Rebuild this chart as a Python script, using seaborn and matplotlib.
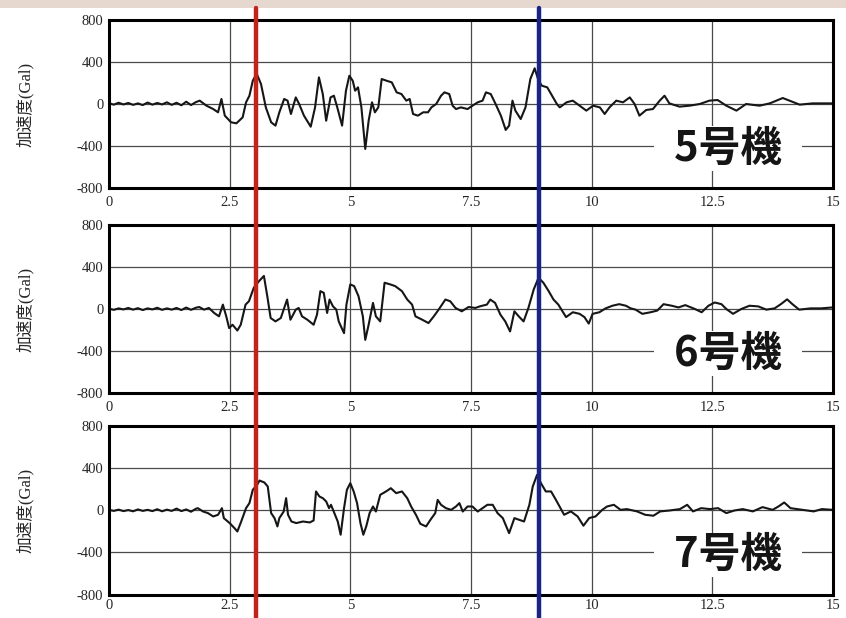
import matplotlib
matplotlib.use("Agg")
import matplotlib.pyplot as plt
from matplotlib.patches import Rectangle
import pandas as pd
import seaborn as sns

sns.set_style("white")
plt.rcParams["font.family"] = ["Liberation Serif", "Noto Sans CJK JP"]
plt.rcParams["axes.unicode_minus"] = False

units = ["5号機", "6号機", "7号機"]
y_title = "加速度(Gal)"
x_ticks = [0, 2.5, 5, 7.5, 10, 12.5, 15]
x_labels = ["0", "2.5", "5", "7.5", "10", "12.5", "15"]
y_ticks = [-800, -400, 0, 400, 800]
y_labels = ["-800", "-400", "0", "400", "800"]
red_t = 3.05
blue_t = 8.9

# quiet part before the main shock (s)
t_pre = [0.0, 0.1, 0.2, 0.3, 0.4, 0.5, 0.6, 0.7, 0.8, 0.9,
         1.0, 1.1, 1.2, 1.3, 1.4, 1.5, 1.6, 1.7, 1.8]

# 5号機
t5 = t_pre + [
    1.88, 2.02, 2.16, 2.26, 2.33, 2.40, 2.53, 2.64, 2.77, 2.84,
    2.91, 2.98, 3.06, 3.15, 3.25, 3.36, 3.45, 3.53, 3.63, 3.70,
    3.77, 3.87, 3.94, 4.04, 4.18, 4.27, 4.35, 4.43, 4.50, 4.59,
    4.66, 4.73, 4.83, 4.91, 4.98, 5.05, 5.10, 5.16, 5.23, 5.31,
    5.38, 5.45, 5.51, 5.58, 5.65, 5.75, 5.86, 5.96, 6.06, 6.16,
    6.23, 6.30, 6.40, 6.51, 6.61, 6.68, 6.78, 6.88, 6.95, 7.05,
    7.12, 7.19, 7.29, 7.43, 7.53, 7.64, 7.74, 7.81, 7.91, 8.01,
    8.12, 8.22, 8.29, 8.36, 8.42, 8.53, 8.63, 8.73, 8.82, 8.90,
    8.97, 9.08, 9.18, 9.28,
    9.34, 9.48, 9.61, 9.75, 9.89, 10.03, 10.17, 10.27, 10.37, 10.51,
    10.65, 10.79, 10.89, 10.99, 11.13, 11.27, 11.41, 11.51, 11.61, 11.82,
    12.03, 12.24, 12.44, 12.61, 12.79, 13.0, 13.2, 13.48, 13.69, 13.96,
    14.1, 14.31, 14.58, 14.86, 15.0]
a5 = [8, -6, 12, -4, 10, -8, 6, -10, 14, -6,
      10, -4, 16, -8, 12, -12, 22, -10, 18,
      32, -16, -48, -79, 48, -111, -174, -184, -127, 16,
      79, 222, 290, 190, -32, -174, -206, -79, 48, 32,
      -95, 63, 0, -111, -216, -32, 254, 95, -159, 63,
      79, -32, -206, 127, 269, 222, 127, 159, -32, -428,
      -159, 16, -79, -32, 238, 222, 206, 111, 95, 32,
      48, -95, -111, -79, -79, -32, 0, 79, 111, 95,
      -16, -48, -32, -48, -16, 16, 32, 111, 95, 0,
      -111, -247, -206, 32, -63, -143, -32, 238, 340, 222,
      174, 159, 79, 0,
      -32, 16, 32, -16, -63, -16, -32, -95, -32, 32,
      16, 63, 0, -111, -57, -48, 32, 79, 6, -25,
      -16, 0, 32, 38, -16, -63, 0, -16, 6, 57,
      32, -6, 6, 6, 6]

# 6号機
t6 = t_pre + [
    1.87, 1.97, 2.07, 2.18, 2.28, 2.36, 2.43, 2.49, 2.56, 2.66,
    2.73, 2.83, 2.90, 3.00, 3.11, 3.21, 3.28, 3.35, 3.45, 3.56,
    3.62, 3.69, 3.76, 3.87, 3.93, 4.00, 4.11, 4.24, 4.31, 4.38,
    4.45, 4.52, 4.57, 4.64, 4.71, 4.76, 4.87, 4.92, 5.00, 5.08,
    5.17, 5.26, 5.31, 5.38, 5.47, 5.53, 5.62, 5.71, 5.83, 5.93,
    6.07, 6.18, 6.28, 6.35, 6.49, 6.62, 6.73, 6.83, 6.97, 7.07,
    7.18, 7.31, 7.45, 7.59, 7.69, 7.83, 7.90, 8.00, 8.11, 8.21,
    8.31, 8.40, 8.49, 8.59, 8.69, 8.80, 8.90, 9.00, 9.11, 9.21,
    9.31,
    9.47, 9.61, 9.75, 9.85, 9.94, 10.02, 10.16, 10.29, 10.43, 10.57,
    10.71, 10.81, 10.91, 11.05, 11.22, 11.36, 11.49, 11.66, 11.80, 11.94,
    12.14, 12.28, 12.42, 12.55, 12.69, 12.79, 12.93, 13.10, 13.27, 13.45,
    13.62, 13.79, 13.92, 14.05, 14.16, 14.30, 14.54, 14.75, 15.0]
a6 = [4, -8, 6, -4, 10, -6, 8, -10, 6, -4,
      12, -8, 6, -6, 10, -10, 14, -8, 12,
      19, -6, 10, -38, -70, 42, -70, -182, -150, -205,
      -150, 42, 74, 202, 266, 315, 122, -86, -118, -86,
      -6, 90, -102, -6, 10, -70, -102, -150, -54, 170,
      154, -38, 90, 26, -6, -118, -230, 42, 234, 218,
      122, -70, -294, -150, 58, -70, -118, 250, 234, 218,
      170, 90, 42, -70, -102, -134, -70, -6, 90, 74,
      10, -22, 19, 10, 26, 42, 90, 58, -54, -118,
      -214, -22, -70, -118, 10, 186, 298, 250, 170, 90,
      42,
      -77, -31, -46, -77, -139, -46, -31, 6, 31, 46,
      31, 6, -6, -46, -31, -15, 46, 31, 15, 37,
      0, -31, 31, 62, 46, 0, -46, 0, 31, 25,
      -6, 6, 46, 92, 46, -6, 6, 6, 15]

# 7号機
t7 = t_pre + [
    1.84, 1.95, 2.05, 2.16, 2.26, 2.34, 2.38, 2.50, 2.60, 2.66,
    2.74, 2.84, 2.91, 2.98, 3.07, 3.12, 3.22, 3.29, 3.36, 3.43,
    3.49, 3.53, 3.62, 3.67, 3.71, 3.78, 3.88, 4.02, 4.16, 4.24,
    4.29, 4.36, 4.43, 4.50, 4.56, 4.60, 4.67, 4.74, 4.80, 4.87,
    4.93, 5.00, 5.07, 5.14, 5.21, 5.27, 5.33, 5.40, 5.47, 5.53,
    5.62, 5.74, 5.84, 5.95, 6.07, 6.18, 6.26, 6.36, 6.45, 6.57,
    6.66, 6.76, 6.81, 6.88, 6.98, 7.09, 7.19, 7.26, 7.33, 7.43,
    7.53, 7.64, 7.74, 7.84, 7.95, 8.05, 8.16, 8.29, 8.40, 8.50,
    8.60, 8.71, 8.78, 8.87, 8.95, 9.05, 9.16, 9.26,
    9.43, 9.57, 9.71, 9.83, 9.95, 10.08, 10.22, 10.32, 10.46, 10.60,
    10.73, 10.94, 11.11, 11.28, 11.42, 11.62, 11.83, 11.98, 12.10, 12.27,
    12.45, 12.62, 12.79, 12.96, 13.13, 13.34, 13.54, 13.75, 13.87, 13.99,
    14.12, 14.36, 14.60, 14.77, 15.0]
a7 = [6, -4, 8, -6, 4, -8, 10, -4, 6, -6,
      12, -8, 8, -4, 18, -6, 10, -12, 16,
      22, -10, -25, -57, -41, 22, -73, -120, -168, -200,
      -105, 22, 70, 197, 244, 285, 266, 228, -25, -73,
      -152, -73, -10, 117, -41, -105, -120, -105, -114, -95,
      181, 133, 117, 86, 22, 54, -25, -105, -231, 22,
      197, 260, 181, 70, -120, -231, -152, -25, 38, -10,
      149, 181, 212, 165, 181, 117, 38, -41, -127, -152,
      -89, -25, 101, 54, 22, 6, 38, 70, -10, 38,
      38, -10, 22, 54, 54, -25, -73, -216, -73, -89,
      -105, 54, 228, 339, 260, 181, 181, 101,
      -41, -9, -57, -145, -72, -57, 6, 38, 54, 6,
      13, -9, -41, -50, -9, 0, 13, 54, -9, 22,
      13, 22, -25, 0, 13, -9, 32, 6, 38, 76,
      22, 6, -9, 13, 6]

series = [(t5, a5), (t6, a6), (t7, a7)]

fig = plt.figure(figsize=(8.46, 6.18), dpi=100)
fig.add_artist(Rectangle((0, 1 - 8 / 618), 1, 8 / 618, transform=fig.transFigure,
                         facecolor="#e6d7cf", edgecolor="none", zorder=0))

boxes = [(0.1288, 0.6958, 0.8558, 0.2718),
         (0.1288, 0.3641, 0.8558, 0.2718),
         (0.1288, 0.0380, 0.8558, 0.2720)]
# how far the marker lines run past each panel (axes fraction)
spans = [(-0.22, 1.071), (-0.203, 1.0), (-0.14, 1.0)]
x_pads = [6, 6, 3]

for box, (t, a), unit, (lo, hi), xp in zip(boxes, series, units, spans, x_pads):
    ax = fig.add_axes(box)
    df = pd.DataFrame({"t": t, "a": a})
    sns.lineplot(data=df, x="t", y="a", ax=ax, color="#161616", linewidth=1.5,
                 estimator=None, sort=False)
    ax.set_xlim(0, 15)
    ax.set_ylim(-800, 800)
    ax.set_xticks(x_ticks, x_labels)
    ax.set_yticks(y_ticks, y_labels)
    ax.grid(True, color="#4a4a4a", linewidth=0.9)
    for s in ax.spines.values():
        s.set_linewidth(2.2)
        s.set_color("black")
    ax.tick_params(axis="x", length=0, pad=xp, labelsize=10.5)
    ax.tick_params(axis="y", length=0, pad=4, labelsize=10.5)
    ax.set_xlabel("")
    ax.set_ylabel(y_title, fontsize=12)
    ax.yaxis.set_label_coords(-0.104, 0.5)
    ax.text(0.855, 0.235, "  " + unit + "  ", transform=ax.transAxes,
            ha="center", va="center", fontsize=30, fontweight="bold",
            family=["Noto Sans CJK JP"], color="#151515",
            bbox=dict(facecolor="white", edgecolor="none", pad=1), zorder=4)
    ax.axvline(red_t, ymin=lo, ymax=hi, color="#c4221c", linewidth=3.2,
               clip_on=False, zorder=6)
    ax.axvline(blue_t, ymin=lo, ymax=hi, color="#1b2484", linewidth=3.2,
               clip_on=False, zorder=6)

fig.savefig("out.png", dpi=100)
